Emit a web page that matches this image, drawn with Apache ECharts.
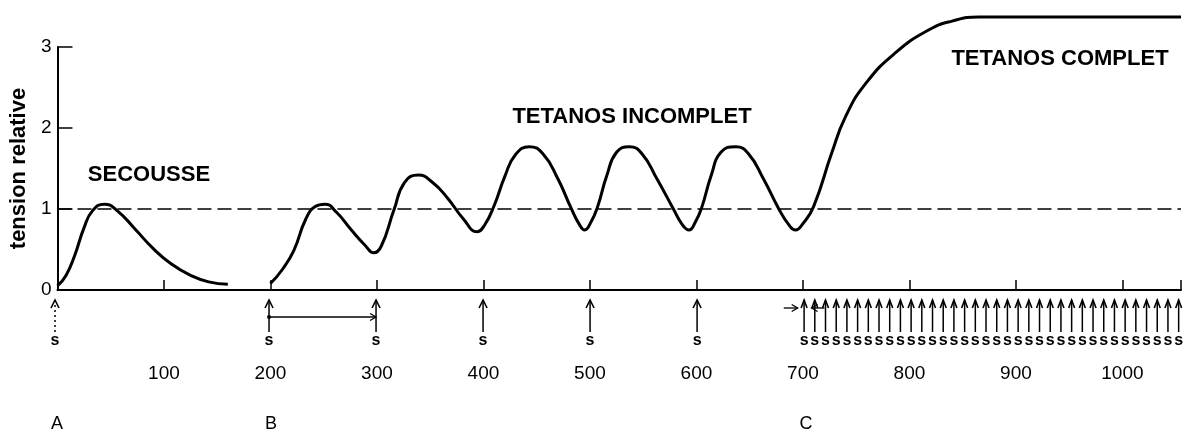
<!DOCTYPE html>
<html>
<head>
<meta charset="utf-8">
<title>Secousse et tétanos</title>
<script src="https://cdn.jsdelivr.net/npm/echarts@6/dist/echarts.min.js"></script>
<style>
html, body { margin: 0; padding: 0; background: #fff; }
#chart { width: 1184px; height: 439px; }
</style>
</head>
<body>
<div id="chart"></div>
<script>
// temps en ms, tension relative
var twitchTime    = [0, 8, 16, 25, 33, 44, 56, 73, 90, 107, 125, 142, 160];
var twitchTension = [0.05, 0.18, 0.42, 0.77, 0.98, 1.06, 0.98, 0.75, 0.51, 0.32, 0.18, 0.1, 0.07];

var tetanusTime = [
    200, 211, 222, 233, 242, 251, 262, 276, 289, 297,
    304, 316, 326, 339, 352, 366, 381, 394,
    401, 410, 420, 430, 443, 456, 470, 482, 490, 495,
    501, 507, 516, 525, 537, 549, 563, 578, 587, 593,
    599, 605, 614, 623, 637, 649, 663, 677, 687, 693,
    700, 710, 727, 740, 759, 787, 818, 840, 865, 900, 1000, 1055];
var tetanusTension = [
    0.08, 0.25, 0.49, 0.87, 1.03, 1.06, 0.96, 0.74, 0.55, 0.46,
    0.54, 0.99, 1.33, 1.42, 1.33, 1.14, 0.88, 0.72,
    0.8, 1.04, 1.4, 1.67, 1.77, 1.68, 1.37, 1.02, 0.81, 0.74,
    0.84, 1.02, 1.42, 1.7, 1.77, 1.68, 1.37, 1.01, 0.8, 0.74,
    0.84, 1.02, 1.42, 1.7, 1.77, 1.68, 1.37, 1.01, 0.8, 0.74,
    0.82, 1.03, 1.69, 2.14, 2.55, 2.93, 3.21, 3.32, 3.37, 3.37, 3.37, 3.37];

// stimulations (ms)
var twitchStim  = [0];
var trainStim   = [200, 300, 400, 500, 600];
var tetanusStim = [700, 710, 720, 730, 740, 750, 760, 770, 780, 790, 800, 810, 820, 830, 840, 850, 860, 870,
                   880, 890, 900, 910, 920, 930, 940, 950, 960, 970, 980, 990, 1000, 1010, 1020, 1030, 1040, 1050];
var intervalB = [[200, 300]];
var intervalC = [[681, 694], [719, 707]];

var xTicks = [100, 200, 300, 400, 500, 600, 700, 800, 900, 1000];
var sectionLetters = ['A', 'B', 'C'];
var sectionStart = [0, 200, 700];
var phaseNames = ['SECOUSSE', 'TETANOS INCOMPLET', 'TETANOS COMPLET'];

var sans = '"Liberation Sans", Arial, sans-serif';

function zip(a, b) {
    var out = [];
    for (var i = 0; i < a.length; i++) out.push([a[i], b[i]]);
    return out;
}
function atZero(list) {
    return list.map(function (t) { return [t, 0]; });
}

function stimRender(dashed, half) {
    return function (params, api) {
        var p = api.coord([api.value(0), 0]);
        var x = p[0], y = p[1];
        var shaft = { stroke: '#000', lineWidth: 1.5 };
        if (dashed) shaft.lineDash = [2, 3];
        return {
            type: 'group',
            children: [
                { type: 'line', shape: { x1: x, y1: y + 10, x2: x, y2: y + 42 }, style: shaft },
                { type: 'polyline', shape: { points: [[x - half, y + 18], [x, y + 10], [x + half, y + 18]] },
                  style: { stroke: '#000', lineWidth: 1.6, fill: null } },
                { type: 'text', style: { text: 's', x: x, y: y + 51, align: 'center', verticalAlign: 'middle',
                  font: 'bold 16px ' + sans, fill: '#000' } }
            ]
        };
    };
}

function intervalRender(dy, dot) {
    return function (params, api) {
        var a = api.coord([api.value(0), 0]);
        var b = api.coord([api.value(1), 0]);
        var y = a[1] + dy;
        var dir = b[0] > a[0] ? 1 : -1;
        var kids = [
            { type: 'line', shape: { x1: a[0], y1: y, x2: b[0], y2: y }, style: { stroke: '#000', lineWidth: 1.3 } },
            { type: 'polyline', shape: { points: [[b[0] - dir * 6, y - 3.5], [b[0], y], [b[0] - dir * 6, y + 3.5]] },
              style: { stroke: '#000', lineWidth: 1.3, fill: null } }
        ];
        if (dot) kids.push({ type: 'circle', shape: { cx: a[0], cy: y, r: 2 }, style: { fill: '#000' } });
        return { type: 'group', children: kids };
    };
}

var myChart = echarts.init(document.getElementById('chart'));
myChart.setOption({
    animation: false,
    backgroundColor: '#fff',
    grid: [
        { left: 55, right: 0, top: 47, bottom: 149 },
        { left: 55, right: 0, top: 290, bottom: 0 }
    ],
    xAxis: [
        {
            type: 'value', gridIndex: 0, min: 0, max: 1055, interval: 100,
            axisLine: { show: true, lineStyle: { color: '#000', width: 2 } },
            axisTick: { show: true, inside: true, length: 10, lineStyle: { color: '#000', width: 1.5 } },
            axisLabel: {
                margin: 74, color: '#000', fontFamily: sans, fontSize: 19,
                formatter: function (v) { return xTicks.indexOf(v) >= 0 ? String(v) : ''; }
            },
            splitLine: { show: false }
        },
        { type: 'value', gridIndex: 1, min: 0, max: 1055, show: false }
    ],
    yAxis: [
        {
            type: 'value', gridIndex: 0, min: 0, max: 3, interval: 1,
            name: 'tension relative', nameLocation: 'middle', nameGap: 23,
            nameTextStyle: { color: '#000', fontFamily: sans, fontWeight: 'bold', fontSize: 22 },
            axisLine: { show: true, lineStyle: { color: '#000', width: 2 } },
            axisTick: { show: true, inside: true, length: 15, lineStyle: { color: '#000', width: 1.5 } },
            axisLabel: { margin: 6, color: '#000', fontFamily: sans, fontSize: 19 },
            splitLine: { show: false }
        },
        { type: 'value', gridIndex: 1, min: 0, max: 149, inverse: true, show: false }
    ],
    graphic: [
        { type: 'text', x: 149, y: 175, style: { text: phaseNames[0], align: 'center', verticalAlign: 'middle', font: 'bold 22px ' + sans, fill: '#000' } },
        { type: 'text', x: 632, y: 117, style: { text: phaseNames[1], align: 'center', verticalAlign: 'middle', font: 'bold 22px ' + sans, fill: '#000' } },
        { type: 'text', x: 1060, y: 59, style: { text: phaseNames[2], align: 'center', verticalAlign: 'middle', font: 'bold 22px ' + sans, fill: '#000' } }
    ],
    series: [
        {
            type: 'line', xAxisIndex: 0, yAxisIndex: 0,
            data: zip(twitchTime, twitchTension),
            smooth: 0.5, showSymbol: false, silent: true,
            lineStyle: { color: '#000', width: 3 },
            markLine: {
                silent: true, symbol: 'none', label: { show: false },
                lineStyle: { color: '#000', width: 1.5, type: [14, 6] },
                data: [{ yAxis: 1 }]
            }
        },
        {
            type: 'line', xAxisIndex: 0, yAxisIndex: 0,
            data: zip(tetanusTime, tetanusTension),
            smooth: 0.5, showSymbol: false, silent: true, clip: false,
            lineStyle: { color: '#000', width: 3 }
        },
        { type: 'custom', xAxisIndex: 1, yAxisIndex: 1, silent: true, data: atZero(twitchStim), renderItem: stimRender(true, 4) },
        { type: 'custom', xAxisIndex: 1, yAxisIndex: 1, silent: true, data: atZero(trainStim), renderItem: stimRender(false, 4) },
        { type: 'custom', xAxisIndex: 1, yAxisIndex: 1, silent: true, data: atZero(tetanusStim), renderItem: stimRender(false, 3) },
        { type: 'custom', xAxisIndex: 1, yAxisIndex: 1, silent: true, data: intervalB, renderItem: intervalRender(27, true) },
        { type: 'custom', xAxisIndex: 1, yAxisIndex: 1, silent: true, data: intervalC, renderItem: intervalRender(18, false) },
        {
            type: 'custom', xAxisIndex: 1, yAxisIndex: 1, silent: true, data: atZero(sectionStart),
            renderItem: function (params, api) {
                var p = api.coord([api.value(0), 0]);
                return { type: 'text', style: { text: sectionLetters[params.dataIndex], x: p[0] + 2, y: p[1] + 134,
                    align: 'center', verticalAlign: 'middle', font: '18px ' + sans, fill: '#000' } };
            }
        }
    ]
});
</script>
</body>
</html>
